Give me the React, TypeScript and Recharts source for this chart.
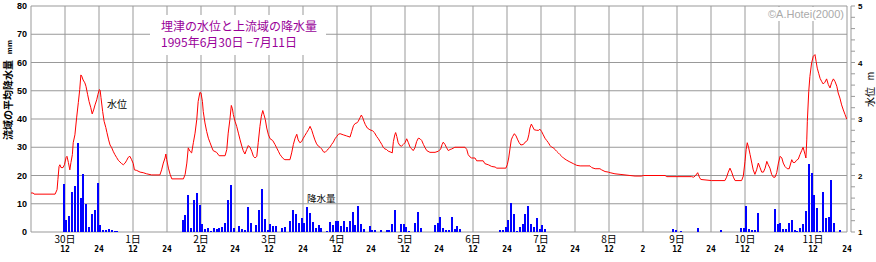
import React from 'react';
import { ComposedChart, Bar, Line, XAxis, YAxis, CartesianGrid } from 'recharts';

// hours counted from 6/30 0:00
const rainHour = [
  11, 12, 13, 14, 15, 16, 17, 18, 19, 20, 21, 22, 23, 24, 25, 26, 27, 28, 29, 30,
  53, 54, 55, 56, 57, 58, 59, 60, 61, 62, 63, 64, 65, 66, 67, 68, 69, 70, 71, 73, 74, 75, 76, 77, 79, 80, 81, 82, 83, 84, 85, 86, 88, 89, 91, 92, 93, 94,
  95, 96, 97, 98, 99, 100, 101, 102, 104, 105, 106, 107, 108, 109, 110, 111, 112, 113, 114, 115, 116, 117, 119, 120, 121, 123, 125, 126, 127, 128, 130, 131, 132, 133, 135, 136, 137,
  142, 143, 144, 145, 146, 147, 148, 149, 150, 151,
  165, 166, 167, 168, 169, 170, 171, 172, 173, 174, 175, 176, 177, 178, 179, 180, 181,
  226, 227, 229, 235, 243,
  250, 251, 252, 253, 254, 255, 256, 262, 263, 264, 265, 266, 267, 268, 269, 270, 271, 272, 273, 274, 275, 276, 277, 278, 279, 280, 281, 282, 283, 285,
];
const rainMm = [
  17.1, 4.3, 5.8, 14.2, 16.4, 31.6, 12.1, 20.6, 10.0, 1.6, 6.5, 7.9, 17.4, 2.6, 0.6, 0.6, 0.9, 0.8, 0.5, 0.5,
  4.3, 6.1, 13.2, 1.5, 11.4, 13.9, 9.4, 2.9, 1.2, 1.5, 0.5, 1.5, 1.2, 1.5, 1.9, 3.3, 11.4, 16.7, 1.5, 2.2, 1.2, 0.8, 9.0, 3.3, 2.6, 7.9, 15.3, 4.7, 0.8, 2.9, 2.2, 2.2, 1.5, 1.9, 4.0, 7.9, 6.5, 3.3,
  5.0, 3.3, 8.8, 6.8, 3.4, 1.5, 2.6, 1.5, 0.5, 3.6, 2.6, 4.0, 4.0, 2.2, 4.0, 1.7, 4.0, 7.1, 2.6, 9.2, 2.9, 1.2, 2.2, 0.8, 0.8, 0.8, 0.8, 0.8, 2.9, 7.8, 2.9, 2.9, 1.9, 0.5, 3.3, 7.1, 1.3,
  2.6, 3.2, 5.3, 1.5, 0.8, 0.8, 5.3, 1.2, 2.2, 1.2,
  0.8, 0.8, 1.9, 4.4, 10.4, 6.5, 0.5, 1.9, 2.9, 6.5, 9.3, 2.9, 1.9, 5.1, 1.2, 2.6, 1.2,
  1.2, 0.8, 0.5, 1.5, 0.8,
  1.5, 1.5, 9.3, 1.2, 0.8, 0.8, 6.8, 8.2, 2.9, 3.3, 1.2, 1.2, 3.3, 4.4, 0.8, 0.5, 1.3, 2.7, 7.5, 24.0, 20.8, 13.1, 8.6, 0.5, 14.2, 5.1, 5.3, 18.4, 3.3, 0.8,
];

const levelHour = [
  0.0, 0.8, 1.1, 8.5, 9.2, 9.5, 9.9, 10.2, 10.6, 11.3, 11.8, 12.4, 12.7, 13.2, 13.7, 14.1, 14.6, 14.9, 15.5, 16.1,
  16.7, 17.2, 17.6, 17.9, 18.4, 19.0, 19.4, 20.0, 20.5, 21.1, 21.6, 22.1, 22.6, 23.2, 23.6, 24.1, 24.4, 24.7, 25.3, 25.8,
  26.4, 26.8, 27.4, 27.9, 28.5, 29.0, 29.6, 30.2, 30.8, 31.4, 32.0, 32.6, 33.2, 33.8, 34.3, 34.9, 35.5, 36.1, 36.5, 37.3,
  38.5, 39.6, 40.8, 42.6, 45.5, 46.1, 46.7, 47.3, 47.6, 47.9, 48.5, 49.1, 49.7, 53.8, 54.4, 55.0, 55.5, 56.1, 56.7, 57.3,
  57.9, 58.5, 59.0, 59.6, 60.0, 60.5, 60.8, 61.4, 62.0, 62.6, 63.2, 63.8, 64.3, 65.5, 66.4, 68.5, 69.1, 69.6, 70.2, 70.7,
  71.1, 71.4, 72.0, 72.6, 73.2, 73.8, 74.4, 74.9, 75.5, 76.1, 76.7, 77.3, 77.9, 78.5, 79.1, 79.7, 80.2, 80.8, 81.3, 81.8,
  82.2, 82.7, 83.2, 83.8, 84.4, 85.3, 86.1, 86.7, 87.3, 87.9, 88.5, 89.0, 89.6, 91.4, 92.0, 92.6, 93.2, 93.8, 94.3, 94.9,
  95.5, 96.1, 96.7, 97.3, 97.9, 98.5, 99.1, 99.6, 100.2, 100.8, 101.4, 102.0, 102.6, 103.2, 103.8, 104.4, 104.9, 105.5, 106.1, 106.7,
  107.3, 107.9, 108.5, 109.1, 110.2, 111.4, 112.6, 113.2, 113.8, 114.4, 115.0, 115.5, 116.1, 116.6, 117.1, 117.5, 118.0, 118.7, 119.6, 120.6,
  121.2, 122.0, 122.6, 123.2, 123.8, 124.3, 124.9, 125.5, 126.1, 126.7, 127.5, 127.9, 128.4, 128.7, 129.1, 129.6, 130.2, 130.8, 131.4, 132.0,
  132.6, 133.2, 133.8, 134.4, 134.9, 135.5, 136.1, 136.7, 137.3, 137.9, 138.5, 139.1, 139.7, 140.8, 142.6, 143.8, 144.6, 145.1, 145.5, 146.1,
  146.7, 147.3, 147.9, 148.5, 149.6, 153.2, 153.8, 154.3, 154.9, 155.5, 156.7, 157.3, 159.6, 160.2, 161.4, 162.6, 163.8, 164.4, 167.6, 168.1,
  168.6, 169.1, 169.5, 170.0, 170.6, 171.2, 171.8, 172.3, 172.9, 173.8, 174.4, 175.2, 175.7, 176.1, 176.6, 177.1, 177.6, 178.5, 179.2, 179.6,
  180.2, 180.8, 181.4, 182.0, 182.6, 183.2, 183.8, 184.4, 184.9, 185.5, 186.1, 186.7, 187.3, 187.9, 189.1, 190.2, 191.4, 192.6, 193.8, 197.3,
  197.9, 199.1, 200.8, 201.4, 202.6, 203.8, 204.4, 206.1, 207.9, 211.4, 213.2, 215.5, 216.1, 223.8, 224.4, 233.2, 233.8, 234.4, 235.3, 235.9,
  236.4, 240.2, 244.9, 245.5, 246.1, 246.7, 247.3, 247.9, 248.5, 250.8, 251.4, 252.0, 252.4, 252.8, 253.3, 253.8, 254.4, 254.9, 255.5, 256.1,
  256.7, 257.3, 257.9, 258.5, 259.1, 259.7, 260.2, 260.8, 261.4, 262.0, 262.6, 263.2, 263.8, 264.4, 265.0, 265.5, 266.1, 266.9, 267.6, 268.5,
  269.0, 269.6, 270.2, 270.8, 271.4, 272.0, 272.5, 273.2, 273.5, 273.8, 274.0, 274.5, 274.9, 275.5, 276.1, 276.7, 277.1, 277.5, 278.0, 278.5,
  279.1, 279.6, 280.2, 280.8, 281.4, 282.0, 282.6, 283.2, 283.8, 284.4, 284.9, 285.5, 286.1, 286.7, 287.3, 287.9,
];
const levelM = [
  1.69, 1.69, 1.67, 1.67, 1.75, 1.93, 2.16, 2.19, 2.14, 2.14, 2.19, 2.32, 2.34, 2.23, 2.10, 2.23, 2.37, 2.58, 2.72, 3.02,
  3.29, 3.52, 3.78, 3.76, 3.69, 3.64, 3.58, 3.43, 3.31, 3.20, 3.09, 3.16, 3.25, 3.34, 3.43, 3.52, 3.51, 3.38, 3.13, 2.96,
  2.85, 2.76, 2.63, 2.54, 2.49, 2.43, 2.37, 2.32, 2.27, 2.24, 2.21, 2.19, 2.22, 2.27, 2.32, 2.34, 2.28, 2.21, 2.10, 2.09,
  2.06, 2.05, 2.03, 2.01, 2.01, 2.10, 2.22, 2.31, 2.38, 2.28, 2.13, 2.02, 1.94, 1.94, 2.02, 2.22, 2.49, 2.43, 2.40, 2.58,
  2.75, 2.99, 3.31, 3.47, 3.46, 3.31, 3.13, 2.93, 2.78, 2.66, 2.58, 2.50, 2.44, 2.41, 2.35, 2.35, 2.46, 2.75, 2.99, 3.24,
  3.18, 3.08, 2.96, 2.87, 2.75, 2.63, 2.52, 2.44, 2.38, 2.46, 2.53, 2.50, 2.43, 2.34, 2.31, 2.34, 2.58, 2.87, 3.05, 3.15,
  3.08, 2.99, 2.84, 2.72, 2.65, 2.62, 2.55, 2.49, 2.43, 2.37, 2.33, 2.30, 2.28, 2.28, 2.40, 2.55, 2.66, 2.73, 2.63, 2.58,
  2.60, 2.66, 2.71, 2.76, 2.81, 2.87, 2.80, 2.72, 2.63, 2.56, 2.52, 2.50, 2.47, 2.42, 2.41, 2.44, 2.47, 2.50, 2.55, 2.59,
  2.65, 2.69, 2.73, 2.74, 2.72, 2.70, 2.68, 2.78, 2.88, 2.92, 2.93, 2.96, 3.02, 3.07, 3.02, 2.96, 2.90, 2.84, 2.81, 2.79,
  2.76, 2.69, 2.65, 2.60, 2.55, 2.50, 2.47, 2.46, 2.43, 2.42, 2.40, 2.60, 2.72, 2.76, 2.69, 2.58, 2.53, 2.52, 2.55, 2.58,
  2.65, 2.58, 2.50, 2.47, 2.44, 2.49, 2.60, 2.66, 2.65, 2.62, 2.55, 2.49, 2.44, 2.41, 2.41, 2.43, 2.47, 2.55, 2.59, 2.55,
  2.49, 2.44, 2.46, 2.47, 2.50, 2.50, 2.46, 2.37, 2.33, 2.31, 2.31, 2.26, 2.26, 2.21, 2.19, 2.16, 2.15, 2.13, 2.13, 2.19,
  2.31, 2.49, 2.63, 2.69, 2.74, 2.70, 2.63, 2.58, 2.54, 2.55, 2.59, 2.62, 2.72, 2.84, 2.91, 2.86, 2.81, 2.80, 2.80, 2.82,
  2.78, 2.72, 2.66, 2.62, 2.58, 2.53, 2.50, 2.49, 2.46, 2.43, 2.40, 2.37, 2.34, 2.31, 2.27, 2.24, 2.21, 2.18, 2.17, 2.17,
  2.14, 2.12, 2.12, 2.10, 2.07, 2.06, 2.05, 2.03, 2.02, 2.00, 1.99, 1.99, 2.00, 2.00, 1.98, 1.98, 1.97, 1.99, 2.05, 1.97,
  1.93, 1.91, 1.91, 1.97, 2.06, 2.13, 2.06, 1.97, 1.91, 1.91, 1.99, 2.25, 2.46, 2.58, 2.49, 2.37, 2.22, 2.10, 2.02, 2.10,
  2.22, 2.14, 2.06, 2.06, 2.13, 2.25, 2.19, 2.13, 2.02, 1.97, 1.97, 2.05, 2.22, 2.34, 2.31, 2.22, 2.16, 2.12, 2.12, 2.28,
  2.23, 2.23, 2.27, 2.29, 2.37, 2.44, 2.50, 2.37, 2.31, 2.63, 2.96, 3.49, 3.75, 3.99, 4.11, 4.14, 4.02, 3.90, 3.81, 3.72,
  3.66, 3.62, 3.65, 3.71, 3.61, 3.55, 3.65, 3.71, 3.66, 3.58, 3.46, 3.37, 3.25, 3.16, 3.08, 3.00,
];

const xTicks = [0, 12, 24, 36, 48, 60, 72, 84, 96, 108, 120, 132, 144, 156, 168, 180, 192, 204, 216, 228, 240, 252, 264, 276, 288];
const hourLabels = ['', '12', '24', '12', '24', '12', '24', '12', '24', '12', '24', '12', '24', '12', '24', '12', '24', '12', '2', '12', '24', '12', '24', '12', '24'];
const dayLabels = ['30日', '1日', '2日', '3日', '4日', '5日', '6日', '7日', '8日', '9日', '10日', '11日'];
const rainTicks = [0, 10, 20, 30, 40, 50, 60, 70, 80];
const levelTicks = [1, 1.2, 1.4, 1.6, 1.8, 2, 2.2, 2.4, 2.6, 2.8, 3, 3.2, 3.4, 3.6, 3.8, 4, 4.2, 4.4, 4.6, 4.8, 5];
const levelLabels = ['1', '2', '3', '4', '5'];

const titleLine1 = '埋津の水位と上流域の降水量';
const titleLine2 = '1995年6月30日 −7月11日';
const copyright = '©A.Hotei(2000)';
const rainAxisTitle = '流域の平均降水量';
const rainUnit = 'mm';
const levelAxisTitle = '水位';
const levelUnit = 'm';
const levelTag = '水位';
const rainTag = '降水量';

const rainData = rainHour.map((h, i) => ({ t: h + 0.5, mm: rainMm[i] }));
const levelData = levelHour.map((h, i) => ({ t: h, m: levelM[i] }));

const GRID = '#999999';
const JP = '"Noto Sans CJK JP", sans-serif';

const RainBar = (props: any) => {
  const { x, y, width, height } = props;
  if (!height || height <= 0) return <g />;
  const cx = x + width / 2;
  return <rect x={Math.round(cx) - 1} y={y} width={2} height={height} fill="#0000ff" shapeRendering="crispEdges" />;
};

const TimeTick = (props: any) => {
  const { x, y, payload } = props;
  const t = payload.value as number;
  const i = xTicks.indexOf(t);
  if (i <= 0) return <g />;
  const day = t % 24 === 12 ? dayLabels[(t - 12) / 24] : null;
  return (
    <g>
      {day && (
        <text x={x} y={y + 11} textAnchor="middle" fontSize={10} fontFamily={JP} fill="#000">
          {day}
        </text>
      )}
      <text x={x} y={y + 20} textAnchor="middle" fontSize={8} fontWeight="bold" fontFamily='"DejaVu Sans Mono", monospace' fill="#000">
        {hourLabels[i]}
      </text>
    </g>
  );
};

const LevelTick = (props: any) => {
  const { x, y, payload } = props;
  const v = payload.value as number;
  const r = Math.round(v);
  if (Math.abs(v - r) > 1e-6) return <g />;
  return (
    <text x={x} y={y + 3} textAnchor="start" fontSize={8} fontWeight="bold" fontFamily='"Liberation Sans", sans-serif' fill="#000">
      {levelLabels[r - 1]}
    </text>
  );
};

export default function App() {
  return (
    <div style={{ position: 'absolute', left: 0, top: 0, width: 876, height: 262, background: '#fff' }}>
      <ComposedChart width={876} height={262} data={rainData} margin={{ top: 6, right: 0, bottom: 0, left: 0 }}>
        <CartesianGrid stroke={GRID} strokeWidth={1} yAxisId="rain" />
        <XAxis
          dataKey="t"
          type="number"
          domain={[0, 288]}
          ticks={xTicks}
          interval={0}
          height={30}
          tickSize={0}
          tickMargin={0}
          axisLine={false}
          tickLine={false}
          tick={<TimeTick />}
          allowDataOverflow
        />
        <YAxis
          yAxisId="rain"
          orientation="left"
          width={31}
          domain={[0, 80]}
          ticks={rainTicks}
          interval={0}
          axisLine={false}
          tickLine={false}
          tickSize={0}
          tickMargin={4}
          tick={{ fontSize: 9, fontWeight: 'bold', fill: '#000', fontFamily: '"Liberation Sans", sans-serif' }}
        />
        <YAxis yAxisId="gap" orientation="right" width={4} axisLine={false} tickLine={false} tick={false} domain={[0, 1]} />
        <YAxis
          yAxisId="lvl"
          orientation="right"
          width={25}
          domain={[1, 5]}
          ticks={levelTicks}
          interval={0}
          axisLine={{ stroke: GRID }}
          tickLine={{ stroke: GRID }}
          tickSize={4}
          tickMargin={3}
          tick={<LevelTick />}
        />
        <Bar yAxisId="rain" dataKey="mm" fill="#0000ff" barSize={2} shape={<RainBar />} isAnimationActive={false} />
        <Line
          yAxisId="lvl"
          data={levelData}
          dataKey="m"
          type="linear"
          stroke="#ff0000"
          strokeWidth={1}
          dot={false}
          activeDot={false}
          isAnimationActive={false}
        />
      </ComposedChart>
      <svg width={876} height={262} style={{ position: 'absolute', left: 0, top: 0, pointerEvents: 'none' }}>
        <rect x={150} y={15} width={176} height={40} fill="#fff" />
        <text x={161} y={31} fontSize={12} fontFamily={JP} fill="#990099">{titleLine1}</text>
        <text x={161} y={47} fontSize={12} fontFamily={JP} fill="#990099">{titleLine2}</text>
        <rect x={765} y={7} width={80} height={14} fill="#fff" />
        <text x={768} y={18} fontSize={11} fontFamily='"Liberation Sans", sans-serif' fill="#aaaaaa">{copyright}</text>
        <text x={107} y={108} fontSize={10} fontFamily={JP} fill="#000">{levelTag}</text>
        <text x={307} y={202} fontSize={9.5} fontFamily={JP} fill="#000">{rainTag}</text>
        <text x={7} y={100} transform="rotate(-90 7 100)" textAnchor="middle" dominantBaseline="central" fontSize={10} fontWeight="bold" fontFamily={JP} fill="#000">{rainAxisTitle}</text>
        <text x={9} y={47} transform="rotate(-90 9 47)" textAnchor="middle" dominantBaseline="central" fontSize={8} fontWeight="bold" fontFamily='"Liberation Sans", sans-serif' fill="#000">{rainUnit}</text>
        <text x={869} y={97} transform="rotate(-90 869 97)" textAnchor="middle" dominantBaseline="central" fontSize={10} fontFamily={JP} fill="#000">{levelAxisTitle}</text>
        <text x={870} y={76} transform="rotate(-90 870 76)" textAnchor="middle" dominantBaseline="central" fontSize={10} fontFamily='"Liberation Sans", sans-serif' fill="#000">{levelUnit}</text>
      </svg>
    </div>
  );
}
